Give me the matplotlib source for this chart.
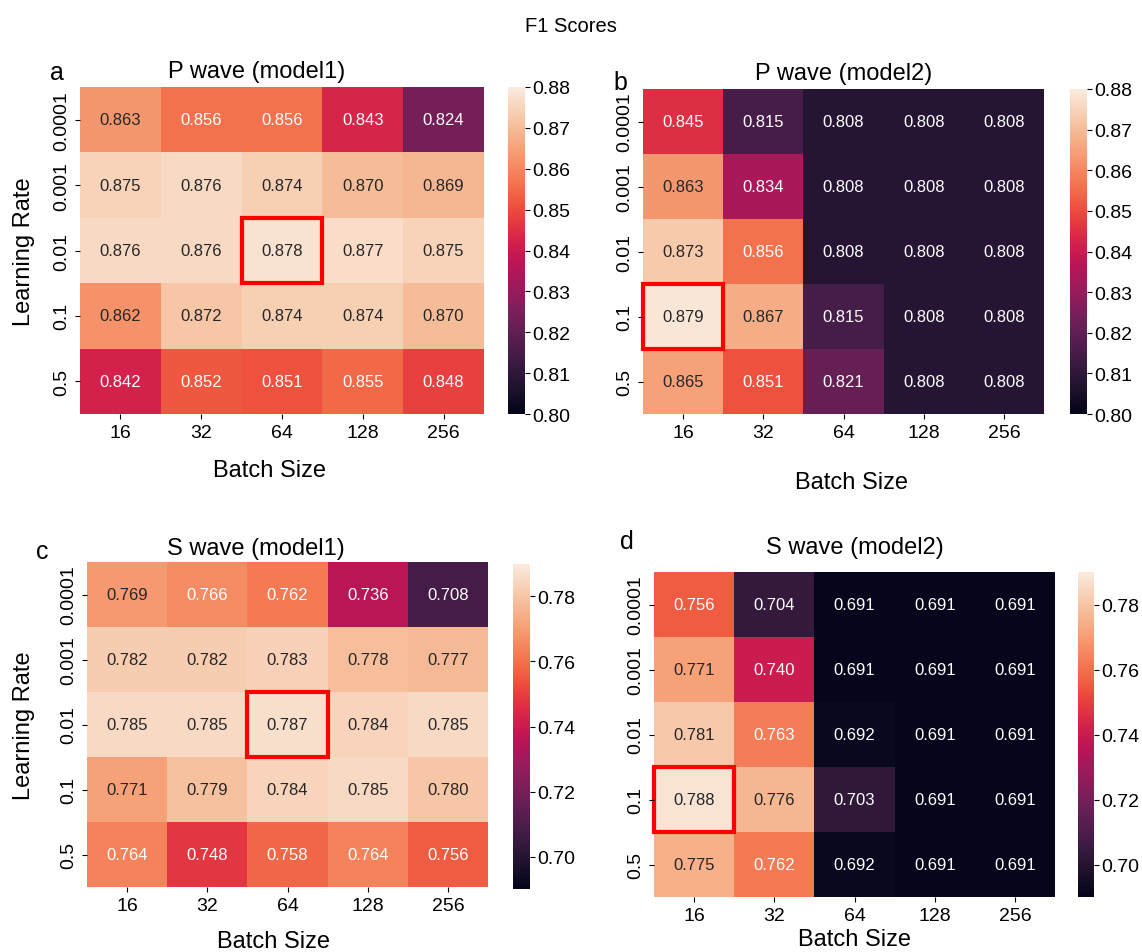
import numpy as np
import matplotlib
matplotlib.use("Agg")
import matplotlib.pyplot as plt
from matplotlib.patches import Rectangle
import seaborn as sns

plt.rcParams['font.family'] = ['Liberation Sans', 'DejaVu Sans']

batch_sizes = [16, 32, 64, 128, 256]
learning_rates = ["0.0001", "0.001", "0.01", "0.1", "0.5"]

p_model1 = [[0.863, 0.856, 0.856, 0.843, 0.824],
            [0.875, 0.876, 0.874, 0.870, 0.869],
            [0.876, 0.876, 0.878, 0.877, 0.875],
            [0.862, 0.872, 0.874, 0.874, 0.870],
            [0.842, 0.852, 0.851, 0.855, 0.848]]
p_model2 = [[0.845, 0.815, 0.808, 0.808, 0.808],
            [0.863, 0.834, 0.808, 0.808, 0.808],
            [0.873, 0.856, 0.808, 0.808, 0.808],
            [0.879, 0.867, 0.815, 0.808, 0.808],
            [0.865, 0.851, 0.821, 0.808, 0.808]]
s_model1 = [[0.769, 0.766, 0.762, 0.736, 0.708],
            [0.782, 0.782, 0.783, 0.778, 0.777],
            [0.785, 0.785, 0.787, 0.784, 0.785],
            [0.771, 0.779, 0.784, 0.785, 0.780],
            [0.764, 0.748, 0.758, 0.764, 0.756]]
s_model2 = [[0.756, 0.704, 0.691, 0.691, 0.691],
            [0.771, 0.740, 0.691, 0.691, 0.691],
            [0.781, 0.763, 0.692, 0.691, 0.691],
            [0.788, 0.776, 0.703, 0.691, 0.691],
            [0.775, 0.762, 0.692, 0.691, 0.691]]

W, H = 1142, 953
fig = plt.figure(figsize=(W / 100, H / 100), dpi=100)


def box(l, t, r, b):
    # pixel box -> figure fraction
    return [l / W, (H - b) / H, (r - l) / W, (b - t) / H]


panels = [
    # data, title, letter, heatmap box, cbar box, vmin, vmax, ticks,
    # letter pos, title pad, title x, xlabel pad, xlabel x, ylabel x (px of right edge) or None
    (p_model1, "P wave (model1)", "a", (80, 88, 484, 415), (508, 88, 525, 415),
     0.80, 0.88, np.arange(0.80, 0.881, 0.01), (57, 73), 7, 0.438, 13, 0.470, 35),
    (p_model2, "P wave (model2)", "b", (643, 90, 1044, 415), (1070, 90, 1087, 415),
     0.80, 0.88, np.arange(0.80, 0.881, 0.01), (620, 83), 7, 0.5, 22, 0.519, None),
    (s_model1, "S wave (model1)", "c", (87, 563, 488, 888), (513, 565, 530, 890),
     0.69, 0.79, np.arange(0.70, 0.781, 0.02), (42, 552), 6, 0.421, 12, 0.466, 35),
    (s_model2, "S wave (model2)", "d", (654, 573, 1055, 898), (1078, 573, 1094, 898),
     0.69, 0.79, np.arange(0.70, 0.781, 0.02), (627, 542), 14, 0.5, 3, 0.5, None),
]

for (data, title, letter, hbox, cbox, vmin, vmax, ticks, lpos,
     tpad, tx, xpad, xx, ylab_px) in panels:
    ax = fig.add_axes(box(*hbox))
    cax = fig.add_axes(box(*cbox))
    arr = np.array(data)
    sns.heatmap(arr, ax=ax, cbar_ax=cax, cmap="rocket", vmin=vmin, vmax=vmax,
                annot=True, fmt=".3f", annot_kws={"fontsize": 12},
                xticklabels=batch_sizes, yticklabels=learning_rates,
                cbar_kws={"ticks": ticks})
    cax.set_yticklabels([f"{t:.2f}" for t in ticks])
    cax.tick_params(labelsize=14, pad=2)
    ax.tick_params(labelsize=14)
    ax.set_yticklabels(learning_rates, rotation=90, va="center")
    ax.set_xticklabels(batch_sizes, rotation=0)
    ax.set_title(title, fontsize=17, pad=tpad, x=tx)
    ax.set_xlabel("Batch Size", fontsize=17, labelpad=xpad, x=xx)
    if ylab_px is not None:
        ax.set_ylabel("Learning Rate", fontsize=17)
        ax.yaxis.set_label_coords((ylab_px - hbox[0]) / (hbox[2] - hbox[0]), 0.5)
    # highlight best cell
    r, c = np.unravel_index(np.argmax(arr), arr.shape)
    ax.add_patch(Rectangle((c, r), 1, 1, fill=False, edgecolor="red", lw=3, clip_on=False))
    fig.text(lpos[0] / W, 1 - lpos[1] / H, letter, fontsize=18, ha="center", va="center")

fig.text(0.5, 1 - 27 / H, "F1 Scores", fontsize=14.5, ha="center", va="center")

fig.savefig("out.png", dpi=100)
